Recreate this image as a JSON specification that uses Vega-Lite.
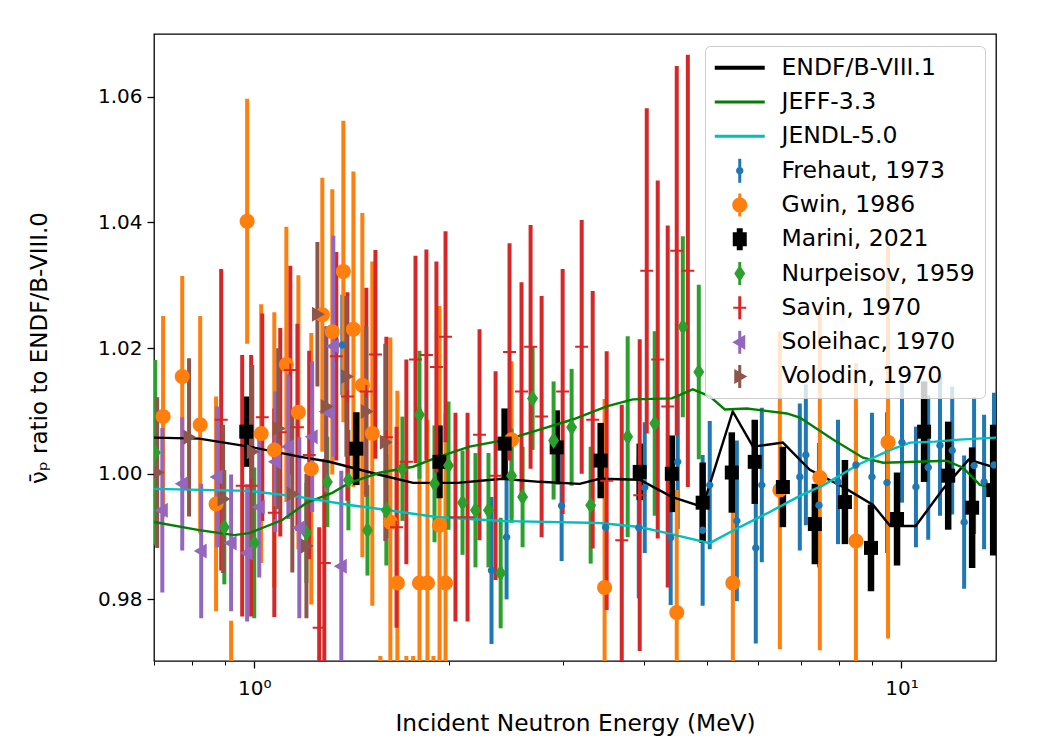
{
  "$schema": "https://vega.github.io/schema/vega-lite/v6.json",
  "width": 842,
  "height": 627,
  "autosize": {"type": "none"},
  "padding": {"left": 154, "top": 34, "right": 47, "bottom": 79},
  "background": "white",
  "config": {
    "view": {"stroke": "#000", "strokeWidth": 1.3},
    "axis": {"domain": false, "grid": false, "tickColor": "#000", "labelColor": "#000", "titleColor": "#000", "labelFont": "DejaVu Sans", "titleFont": "DejaVu Sans", "titleFontWeight": "normal"}
  },
  "datasets": {
    "evals": [
      {"s": "ENDF/B-VIII.1", "E": 0.700, "v": 1.00576}, {"s": "ENDF/B-VIII.1", "E": 0.822, "v": 1.0056}, {"s": "ENDF/B-VIII.1", "E": 0.982, "v": 1.00432}, {"s": "ENDF/B-VIII.1", "E": 1.174, "v": 1.00272}, {"s": "ENDF/B-VIII.1", "E": 1.306, "v": 1.00192}, {"s": "ENDF/B-VIII.1", "E": 1.561, "v": 0.99984}, {"s": "ENDF/B-VIII.1", "E": 1.760, "v": 0.99856}, {"s": "ENDF/B-VIII.1", "E": 2.061, "v": 0.99856}, {"s": "ENDF/B-VIII.1", "E": 2.420, "v": 0.9992}, {"s": "ENDF/B-VIII.1", "E": 2.760, "v": 0.99872}, {"s": "ENDF/B-VIII.1", "E": 3.183, "v": 0.9984}, {"s": "ENDF/B-VIII.1", "E": 3.418, "v": 0.9992}, {"s": "ENDF/B-VIII.1", "E": 3.941, "v": 0.99904}, {"s": "ENDF/B-VIII.1", "E": 4.418, "v": 0.99632}, {"s": "ENDF/B-VIII.1", "E": 4.930, "v": 0.99472}, {"s": "ENDF/B-VIII.1", "E": 5.487, "v": 1.00992}, {"s": "ENDF/B-VIII.1", "E": 5.897, "v": 1.00432}, {"s": "ENDF/B-VIII.1", "E": 6.560, "v": 1.00496}, {"s": "ENDF/B-VIII.1", "E": 7.218, "v": 1.00064}, {"s": "ENDF/B-VIII.1", "E": 8.120, "v": 0.99792}, {"s": "ENDF/B-VIII.1", "E": 9.04, "v": 0.99504}, {"s": "ENDF/B-VIII.1", "E": 9.61, "v": 0.99168}, {"s": "ENDF/B-VIII.1", "E": 10.52, "v": 0.99168}, {"s": "ENDF/B-VIII.1", "E": 11.6, "v": 0.9976}, {"s": "ENDF/B-VIII.1", "E": 12.7, "v": 1.00224}, {"s": "ENDF/B-VIII.1", "E": 14.0, "v": 1.00096},
      {"s": "JEFF-3.3", "E": 0.700, "v": 0.99232}, {"s": "JEFF-3.3", "E": 0.822, "v": 0.99104}, {"s": "JEFF-3.3", "E": 0.931, "v": 0.99024}, {"s": "JEFF-3.3", "E": 0.982, "v": 0.99056}, {"s": "JEFF-3.3", "E": 1.105, "v": 0.99264}, {"s": "JEFF-3.3", "E": 1.204, "v": 0.99536}, {"s": "JEFF-3.3", "E": 1.320, "v": 0.99696}, {"s": "JEFF-3.3", "E": 1.403, "v": 0.99856}, {"s": "JEFF-3.3", "E": 1.561, "v": 1.00016}, {"s": "JEFF-3.3", "E": 1.760, "v": 1.00112}, {"s": "JEFF-3.3", "E": 1.912, "v": 1.00256}, {"s": "JEFF-3.3", "E": 2.151, "v": 1.00432}, {"s": "JEFF-3.3", "E": 2.454, "v": 1.00544}, {"s": "JEFF-3.3", "E": 2.760, "v": 1.00704}, {"s": "JEFF-3.3", "E": 3.105, "v": 1.00864}, {"s": "JEFF-3.3", "E": 3.504, "v": 1.01072}, {"s": "JEFF-3.3", "E": 3.845, "v": 1.01184}, {"s": "JEFF-3.3", "E": 4.418, "v": 1.012}, {"s": "JEFF-3.3", "E": 4.760, "v": 1.01344}, {"s": "JEFF-3.3", "E": 5.056, "v": 1.01232}, {"s": "JEFF-3.3", "E": 5.334, "v": 1.01024}, {"s": "JEFF-3.3", "E": 5.769, "v": 1.0104}, {"s": "JEFF-3.3", "E": 6.653, "v": 1.0096}, {"s": "JEFF-3.3", "E": 6.966, "v": 1.00896}, {"s": "JEFF-3.3", "E": 7.839, "v": 1.00544}, {"s": "JEFF-3.3", "E": 8.72, "v": 1.00256}, {"s": "JEFF-3.3", "E": 9.37, "v": 1.00176}, {"s": "JEFF-3.3", "E": 10.57, "v": 1.00192}, {"s": "JEFF-3.3", "E": 11.73, "v": 1.00208}, {"s": "JEFF-3.3", "E": 12.45, "v": 1.00096}, {"s": "JEFF-3.3", "E": 13.22, "v": 0.99824}, {"s": "JEFF-3.3", "E": 14.0, "v": 0.99776},
      {"s": "JENDL-5.0", "E": 0.700, "v": 0.9976}, {"s": "JENDL-5.0", "E": 0.982, "v": 0.99728}, {"s": "JENDL-5.0", "E": 1.174, "v": 0.99632}, {"s": "JENDL-5.0", "E": 1.403, "v": 0.99504}, {"s": "JENDL-5.0", "E": 1.561, "v": 0.9944}, {"s": "JENDL-5.0", "E": 1.912, "v": 0.99312}, {"s": "JENDL-5.0", "E": 2.420, "v": 0.99248}, {"s": "JENDL-5.0", "E": 3.418, "v": 0.99216}, {"s": "JENDL-5.0", "E": 3.941, "v": 0.99152}, {"s": "JENDL-5.0", "E": 4.277, "v": 0.99072}, {"s": "JENDL-5.0", "E": 5.056, "v": 0.98896}, {"s": "JENDL-5.0", "E": 5.626, "v": 0.99152}, {"s": "JENDL-5.0", "E": 6.260, "v": 0.99392}, {"s": "JENDL-5.0", "E": 6.966, "v": 0.99648}, {"s": "JENDL-5.0", "E": 7.591, "v": 0.99824}, {"s": "JENDL-5.0", "E": 8.567, "v": 1.00144}, {"s": "JENDL-5.0", "E": 9.637, "v": 1.00384}, {"s": "JENDL-5.0", "E": 10.31, "v": 1.00496}, {"s": "JENDL-5.0", "E": 11.27, "v": 1.00512}, {"s": "JENDL-5.0", "E": 12.28, "v": 1.00544}, {"s": "JENDL-5.0", "E": 14.0, "v": 1.00576}
    ],
    "exps": [
      {"s": "Frehaut, 1973", "E": 1.368, "v": 1.0205, "err": 0.008}, {"s": "Frehaut, 1973", "E": 2.326, "v": 0.9846, "err": 0.0117}, {"s": "Frehaut, 1973", "E": 2.454, "v": 0.9899, "err": 0.0099}, {"s": "Frehaut, 1973", "E": 2.985, "v": 0.9949, "err": 0.0088}, {"s": "Frehaut, 1973", "E": 3.491, "v": 0.9915, "err": 0.0112}, {"s": "Frehaut, 1973", "E": 3.928, "v": 0.9914, "err": 0.0112}, {"s": "Frehaut, 1973", "E": 4.012, "v": 0.9978, "err": 0.0104}, {"s": "Frehaut, 1973", "E": 4.40, "v": 0.9898, "err": 0.0107}, {"s": "Frehaut, 1973", "E": 4.512, "v": 1.0019, "err": 0.0107}, {"s": "Frehaut, 1973", "E": 4.93, "v": 0.991, "err": 0.012}, {"s": "Frehaut, 1973", "E": 5.056, "v": 0.9982, "err": 0.0102}, {"s": "Frehaut, 1973", "E": 5.568, "v": 0.9925, "err": 0.0128}, {"s": "Frehaut, 1973", "E": 5.956, "v": 0.9882, "err": 0.0152}, {"s": "Frehaut, 1973", "E": 6.085, "v": 0.9982, "err": 0.0123}, {"s": "Frehaut, 1973", "E": 6.966, "v": 0.9995, "err": 0.0117}, {"s": "Frehaut, 1973", "E": 7.117, "v": 1.003, "err": 0.0112}, {"s": "Frehaut, 1973", "E": 7.457, "v": 0.995, "err": 0.0099}, {"s": "Frehaut, 1973", "E": 7.98, "v": 0.9987, "err": 0.0099}, {"s": "Frehaut, 1973", "E": 8.506, "v": 1.0014, "err": 0.0088}, {"s": "Frehaut, 1973", "E": 9.005, "v": 0.9995, "err": 0.0102}, {"s": "Frehaut, 1973", "E": 9.50, "v": 0.9986, "err": 0.0112}, {"s": "Frehaut, 1973", "E": 10.02, "v": 1.005, "err": 0.0096}, {"s": "Frehaut, 1973", "E": 10.53, "v": 0.9979, "err": 0.0096}, {"s": "Frehaut, 1973", "E": 11.0, "v": 1.001, "err": 0.0115}, {"s": "Frehaut, 1973", "E": 11.47, "v": 1.0045, "err": 0.0112}, {"s": "Frehaut, 1973", "E": 11.98, "v": 1.0037, "err": 0.0102}, {"s": "Frehaut, 1973", "E": 12.5, "v": 0.9923, "err": 0.0106}, {"s": "Frehaut, 1973", "E": 12.95, "v": 1.0013, "err": 0.0109}, {"s": "Frehaut, 1973", "E": 13.42, "v": 0.9987, "err": 0.0107}, {"s": "Frehaut, 1973", "E": 13.9, "v": 1.0014, "err": 0.0115},
      {"s": "Gwin, 1986", "E": 0.723, "v": 1.0091, "err": 0.016}, {"s": "Gwin, 1986", "E": 0.774, "v": 1.0155, "err": 0.016}, {"s": "Gwin, 1986", "E": 0.825, "v": 1.0078, "err": 0.0173}, {"s": "Gwin, 1986", "E": 0.873, "v": 0.9952, "err": 0.0171}, {"s": "Gwin, 1986", "E": 0.921, "v": 0.9638, "err": 0.0128}, {"s": "Gwin, 1986", "E": 0.975, "v": 1.0402, "err": 0.0195}, {"s": "Gwin, 1986", "E": 1.025, "v": 1.0064, "err": 0.0206}, {"s": "Gwin, 1986", "E": 1.074, "v": 1.0038, "err": 0.0219}, {"s": "Gwin, 1986", "E": 1.121, "v": 1.0174, "err": 0.0219}, {"s": "Gwin, 1986", "E": 1.170, "v": 1.0098, "err": 0.0218}, {"s": "Gwin, 1986", "E": 1.225, "v": 1.0008, "err": 0.0216}, {"s": "Gwin, 1986", "E": 1.274, "v": 1.0253, "err": 0.0218}, {"s": "Gwin, 1986", "E": 1.320, "v": 1.0226, "err": 0.0227}, {"s": "Gwin, 1986", "E": 1.373, "v": 1.0322, "err": 0.024}, {"s": "Gwin, 1986", "E": 1.423, "v": 1.023, "err": 0.0251}, {"s": "Gwin, 1986", "E": 1.469, "v": 1.0141, "err": 0.0274}, {"s": "Gwin, 1986", "E": 1.522, "v": 1.0064, "err": 0.0274}, {"s": "Gwin, 1986", "E": 1.566, "v": 0.955, "err": 0.016}, {"s": "Gwin, 1986", "E": 1.623, "v": 0.9923, "err": 0.0294}, {"s": "Gwin, 1986", "E": 1.664, "v": 0.9826, "err": 0.0306}, {"s": "Gwin, 1986", "E": 1.718, "v": 0.955, "err": 0.016}, {"s": "Gwin, 1986", "E": 1.760, "v": 0.956, "err": 0.015}, {"s": "Gwin, 1986", "E": 1.800, "v": 0.9826, "err": 0.028}, {"s": "Gwin, 1986", "E": 1.852, "v": 0.9826, "err": 0.026}, {"s": "Gwin, 1986", "E": 1.892, "v": 0.956, "err": 0.015}, {"s": "Gwin, 1986", "E": 1.933, "v": 0.9918, "err": 0.0349}, {"s": "Gwin, 1986", "E": 1.975, "v": 0.9826, "err": 0.027}, {"s": "Gwin, 1986", "E": 2.498, "v": 1.0054, "err": 0.0125}, {"s": "Gwin, 1986", "E": 3.478, "v": 0.9819, "err": 0.03}, {"s": "Gwin, 1986", "E": 4.496, "v": 0.9779, "err": 0.0195}, {"s": "Gwin, 1986", "E": 5.489, "v": 0.9826, "err": 0.0229}, {"s": "Gwin, 1986", "E": 6.489, "v": 0.9974, "err": 0.0253}, {"s": "Gwin, 1986", "E": 7.48, "v": 0.9994, "err": 0.0275}, {"s": "Gwin, 1986", "E": 8.506, "v": 0.9893, "err": 0.0283}, {"s": "Gwin, 1986", "E": 9.535, "v": 1.005, "err": 0.0312},
      {"s": "Marini, 2021", "E": 0.972, "v": 1.0067, "err": 0.0056}, {"s": "Marini, 2021", "E": 1.438, "v": 1.004, "err": 0.0058}, {"s": "Marini, 2021", "E": 1.933, "v": 1.0019, "err": 0.0058}, {"s": "Marini, 2021", "E": 2.437, "v": 1.0048, "err": 0.0056}, {"s": "Marini, 2021", "E": 2.933, "v": 1.0042, "err": 0.0059}, {"s": "Marini, 2021", "E": 3.43, "v": 1.0021, "err": 0.006}, {"s": "Marini, 2021", "E": 3.941, "v": 1.0003, "err": 0.0045}, {"s": "Marini, 2021", "E": 4.418, "v": 1.0, "err": 0.0061}, {"s": "Marini, 2021", "E": 4.93, "v": 0.9954, "err": 0.0064}, {"s": "Marini, 2021", "E": 5.469, "v": 1.0002, "err": 0.0064}, {"s": "Marini, 2021", "E": 5.934, "v": 1.0019, "err": 0.0067}, {"s": "Marini, 2021", "E": 6.559, "v": 0.9979, "err": 0.0064}, {"s": "Marini, 2021", "E": 7.349, "v": 0.992, "err": 0.0064}, {"s": "Marini, 2021", "E": 8.179, "v": 0.9955, "err": 0.0067}, {"s": "Marini, 2021", "E": 8.974, "v": 0.9882, "err": 0.0069}, {"s": "Marini, 2021", "E": 9.845, "v": 0.9928, "err": 0.0074}, {"s": "Marini, 2021", "E": 10.84, "v": 1.0067, "err": 0.008}, {"s": "Marini, 2021", "E": 11.81, "v": 0.9997, "err": 0.0086}, {"s": "Marini, 2021", "E": 12.86, "v": 0.9946, "err": 0.0096}, {"s": "Marini, 2021", "E": 13.86, "v": 0.9974, "err": 0.0104},
      {"s": "Nurpeisov, 1959", "E": 0.703, "v": 1.0034, "err": 0.0147}, {"s": "Nurpeisov, 1959", "E": 0.899, "v": 0.9915, "err": 0.0091}, {"s": "Nurpeisov, 1959", "E": 1.0, "v": 0.989, "err": 0.012}, {"s": "Nurpeisov, 1959", "E": 1.204, "v": 0.9906, "err": 0.008}, {"s": "Nurpeisov, 1959", "E": 1.297, "v": 0.9987, "err": 0.0072}, {"s": "Nurpeisov, 1959", "E": 1.398, "v": 0.999, "err": 0.008}, {"s": "Nurpeisov, 1959", "E": 1.496, "v": 0.991, "err": 0.0072}, {"s": "Nurpeisov, 1959", "E": 1.600, "v": 0.9942, "err": 0.0088}, {"s": "Nurpeisov, 1959", "E": 1.694, "v": 1.0008, "err": 0.0083}, {"s": "Nurpeisov, 1959", "E": 1.800, "v": 1.0094, "err": 0.0102}, {"s": "Nurpeisov, 1959", "E": 1.899, "v": 0.9984, "err": 0.0093}, {"s": "Nurpeisov, 1959", "E": 1.996, "v": 1.0013, "err": 0.0102}, {"s": "Nurpeisov, 1959", "E": 2.098, "v": 0.9954, "err": 0.0083}, {"s": "Nurpeisov, 1959", "E": 2.197, "v": 0.9942, "err": 0.0091}, {"s": "Nurpeisov, 1959", "E": 2.301, "v": 0.9942, "err": 0.0091}, {"s": "Nurpeisov, 1959", "E": 2.403, "v": 0.9842, "err": 0.0088}, {"s": "Nurpeisov, 1959", "E": 2.498, "v": 0.9997, "err": 0.0075}, {"s": "Nurpeisov, 1959", "E": 2.598, "v": 0.9963, "err": 0.008}, {"s": "Nurpeisov, 1959", "E": 2.692, "v": 1.012, "err": 0.0082}, {"s": "Nurpeisov, 1959", "E": 2.901, "v": 1.0053, "err": 0.0094}, {"s": "Nurpeisov, 1959", "E": 3.093, "v": 1.0074, "err": 0.0093}, {"s": "Nurpeisov, 1959", "E": 3.310, "v": 0.995, "err": 0.0093}, {"s": "Nurpeisov, 1959", "E": 3.776, "v": 1.0059, "err": 0.016}, {"s": "Nurpeisov, 1959", "E": 4.157, "v": 1.008, "err": 0.0147}, {"s": "Nurpeisov, 1959", "E": 4.594, "v": 1.0234, "err": 0.0144}, {"s": "Nurpeisov, 1959", "E": 4.863, "v": 1.0162, "err": 0.0139},
      {"s": "Savin, 1970", "E": 0.889, "v": 1.0086, "err": 0.024}, {"s": "Savin, 1970", "E": 0.958, "v": 0.9981, "err": 0.0208}, {"s": "Savin, 1970", "E": 0.989, "v": 0.9981, "err": 0.0208}, {"s": "Savin, 1970", "E": 1.029, "v": 1.009, "err": 0.0165}, {"s": "Savin, 1970", "E": 1.074, "v": 0.9938, "err": 0.0166}, {"s": "Savin, 1970", "E": 1.097, "v": 1.0066, "err": 0.0166}, {"s": "Savin, 1970", "E": 1.137, "v": 1.0165, "err": 0.0166}, {"s": "Savin, 1970", "E": 1.166, "v": 1.0074, "err": 0.0165}, {"s": "Savin, 1970", "E": 1.216, "v": 1.003, "err": 0.0166}, {"s": "Savin, 1970", "E": 1.260, "v": 0.9755, "err": 0.016}, {"s": "Savin, 1970", "E": 1.283, "v": 0.9858, "err": 0.0166}, {"s": "Savin, 1970", "E": 1.339, "v": 1.0187, "err": 0.0166}, {"s": "Savin, 1970", "E": 1.393, "v": 1.0123, "err": 0.0166}, {"s": "Savin, 1970", "E": 1.490, "v": 1.0131, "err": 0.0165}, {"s": "Savin, 1970", "E": 1.539, "v": 1.019, "err": 0.0166}, {"s": "Savin, 1970", "E": 1.600, "v": 1.0058, "err": 0.016}, {"s": "Savin, 1970", "E": 1.659, "v": 0.9915, "err": 0.016}, {"s": "Savin, 1970", "E": 1.718, "v": 1.0019, "err": 0.0163}, {"s": "Savin, 1970", "E": 1.775, "v": 1.0182, "err": 0.0165}, {"s": "Savin, 1970", "E": 1.845, "v": 1.0189, "err": 0.0168}, {"s": "Savin, 1970", "E": 1.912, "v": 1.017, "err": 0.0168}, {"s": "Savin, 1970", "E": 1.975, "v": 1.0218, "err": 0.0168}, {"s": "Savin, 1970", "E": 2.046, "v": 0.9931, "err": 0.0166}, {"s": "Savin, 1970", "E": 2.136, "v": 0.9931, "err": 0.0166}, {"s": "Savin, 1970", "E": 2.229, "v": 1.0062, "err": 0.0168}, {"s": "Savin, 1970", "E": 2.36, "v": 0.9997, "err": 0.0166}, {"s": "Savin, 1970", "E": 2.48, "v": 1.0194, "err": 0.0173}, {"s": "Savin, 1970", "E": 2.588, "v": 1.0131, "err": 0.0174}, {"s": "Savin, 1970", "E": 2.673, "v": 1.0202, "err": 0.0194}, {"s": "Savin, 1970", "E": 2.78, "v": 1.0091, "err": 0.0192}, {"s": "Savin, 1970", "E": 2.996, "v": 1.0131, "err": 0.0195}, {"s": "Savin, 1970", "E": 3.206, "v": 1.0202, "err": 0.0202}, {"s": "Savin, 1970", "E": 3.334, "v": 1.0086, "err": 0.0205}, {"s": "Savin, 1970", "E": 3.504, "v": 0.9989, "err": 0.0206}, {"s": "Savin, 1970", "E": 3.697, "v": 0.9894, "err": 0.0216}, {"s": "Savin, 1970", "E": 3.941, "v": 0.9966, "err": 0.0248}, {"s": "Savin, 1970", "E": 4.041, "v": 1.0323, "err": 0.0259}, {"s": "Savin, 1970", "E": 4.202, "v": 1.0182, "err": 0.0285}, {"s": "Savin, 1970", "E": 4.354, "v": 1.0107, "err": 0.0288}, {"s": "Savin, 1970", "E": 4.496, "v": 1.0355, "err": 0.0294}, {"s": "Savin, 1970", "E": 4.677, "v": 1.0323, "err": 0.0344},
      {"s": "Soleihac, 1970", "E": 0.721, "v": 0.9942, "err": 0.0131}, {"s": "Soleihac, 1970", "E": 0.774, "v": 0.9984, "err": 0.0106}, {"s": "Soleihac, 1970", "E": 0.828, "v": 0.9877, "err": 0.0107}, {"s": "Soleihac, 1970", "E": 0.876, "v": 0.9995, "err": 0.0112}, {"s": "Soleihac, 1970", "E": 0.921, "v": 0.989, "err": 0.0109}, {"s": "Soleihac, 1970", "E": 0.975, "v": 0.9874, "err": 0.0109}, {"s": "Soleihac, 1970", "E": 1.018, "v": 0.9947, "err": 0.0112}, {"s": "Soleihac, 1970", "E": 1.078, "v": 1.0019, "err": 0.0112}, {"s": "Soleihac, 1970", "E": 1.129, "v": 1.0043, "err": 0.0115}, {"s": "Soleihac, 1970", "E": 1.174, "v": 0.9914, "err": 0.0144}, {"s": "Soleihac, 1970", "E": 1.229, "v": 1.0059, "err": 0.012}, {"s": "Soleihac, 1970", "E": 1.292, "v": 1.0099, "err": 0.0128}, {"s": "Soleihac, 1970", "E": 1.325, "v": 1.0203, "err": 0.0176}, {"s": "Soleihac, 1970", "E": 1.363, "v": 0.9853, "err": 0.0152},
      {"s": "Volodin, 1970", "E": 0.708, "v": 1.0002, "err": 0.012}, {"s": "Volodin, 1970", "E": 0.793, "v": 1.0058, "err": 0.0126}, {"s": "Volodin, 1970", "E": 0.895, "v": 0.996, "err": 0.0118}, {"s": "Volodin, 1970", "E": 0.993, "v": 1.0035, "err": 0.0138}, {"s": "Volodin, 1970", "E": 1.089, "v": 1.0072, "err": 0.0128}, {"s": "Volodin, 1970", "E": 1.145, "v": 0.9968, "err": 0.0125}, {"s": "Volodin, 1970", "E": 1.204, "v": 0.9885, "err": 0.0115}, {"s": "Volodin, 1970", "E": 1.252, "v": 1.0254, "err": 0.0115}, {"s": "Volodin, 1970", "E": 1.292, "v": 1.0107, "err": 0.0128}, {"s": "Volodin, 1970", "E": 1.388, "v": 1.0155, "err": 0.0128}, {"s": "Volodin, 1970", "E": 1.49, "v": 1.0099, "err": 0.0136}, {"s": "Volodin, 1970", "E": 1.594, "v": 1.005, "err": 0.0157}
    ]
  },
  "layer": [
    {
      "data": {"name": "exps"},
      "transform": [{"filter": {"field": "s", "oneOf": ["Frehaut, 1973", "Gwin, 1986"]}}],
      "mark": {"type": "errorbar", "ticks": false, "thickness": 4, "clip": true},
      "encoding": {
        "x": {"field": "E", "type": "quantitative", "scale": {"type": "log", "domain": [0.7, 14], "nice": false},
          "title": "Incident Neutron Energy (MeV)",
          "axis": {"values": [0.7, 0.8, 0.9, 1, 2, 3, 4, 5, 6, 7, 8, 9, 10], "labelExpr": "datum.value === 1 ? '10⁰' : datum.value === 10 ? '10¹' : ''", "labelOverlap": false, "labelFlush": false, "labelFontSize": 20, "labelPadding": 10, "titleFontSize": 23.3, "titlePadding": 14,
            "tickSize": {"condition": {"test": "datum.value === 1 || datum.value === 10", "value": 7}, "value": 4},
            "tickWidth": {"condition": {"test": "datum.value === 1 || datum.value === 10", "value": 1.3}, "value": 1}}},
        "y": {"field": "v", "type": "quantitative", "scale": {"domain": [0.9702, 1.07], "nice": false, "zero": false},
          "title": "ν̄ₚ ratio to ENDF/B-VIII.0",
          "axis": {"values": [0.98, 1.0, 1.02, 1.04, 1.06], "format": ".2f", "labelFontSize": 20, "labelPadding": 5, "tickSize": 7, "tickWidth": 1.3, "titleFontSize": 23, "titlePadding": 46}},
        "yError": {"field": "err"},
        "color": {"field": "s", "type": "nominal", "scale": {"domain": ["ENDF/B-VIII.1", "JEFF-3.3", "JENDL-5.0", "Frehaut, 1973", "Gwin, 1986", "Marini, 2021", "Nurpeisov, 1959", "Savin, 1970", "Soleihac, 1970", "Volodin, 1970"], "range": ["#000000", "#008000", "#00bfbf", "#1f77b4", "#ff7f0e", "#000000", "#2ca02c", "#d62728", "#9467bd", "#8c564b"]}}
      }
    },
    {
      "data": {"name": "exps"},
      "transform": [{"filter": {"field": "s", "equal": "Marini, 2021"}}],
      "mark": {"type": "errorbar", "ticks": false, "thickness": 6.5, "clip": true},
      "encoding": {
        "x": {"field": "E", "type": "quantitative", "title": "Incident Neutron Energy (MeV)"},
        "y": {"field": "v", "type": "quantitative", "title": "ν̄ₚ ratio to ENDF/B-VIII.0"},
        "yError": {"field": "err"},
        "color": {"field": "s", "type": "nominal"}
      }
    },
    {
      "data": {"name": "exps"},
      "transform": [{"filter": {"field": "s", "oneOf": ["Nurpeisov, 1959", "Savin, 1970", "Soleihac, 1970", "Volodin, 1970"]}}],
      "mark": {"type": "errorbar", "ticks": false, "thickness": 4, "clip": true},
      "encoding": {
        "x": {"field": "E", "type": "quantitative", "title": "Incident Neutron Energy (MeV)"},
        "y": {"field": "v", "type": "quantitative", "title": "ν̄ₚ ratio to ENDF/B-VIII.0"},
        "yError": {"field": "err"},
        "color": {"field": "s", "type": "nominal"}
      }
    },
    {
      "data": {"name": "evals"},
      "mark": {"type": "line", "strokeWidth": 2.4, "clip": true},
      "encoding": {
        "x": {"field": "E", "type": "quantitative", "title": "Incident Neutron Energy (MeV)"},
        "y": {"field": "v", "type": "quantitative", "title": "ν̄ₚ ratio to ENDF/B-VIII.0"},
        "color": {"field": "s", "type": "nominal",
          "legend": {
            "orient": "none", "legendX": 551, "legendY": 12, "title": null,
            "labelFont": "DejaVu Sans", "labelFontSize": 23.5, "labelColor": "#000", "labelLimit": 400,
            "symbolSize": 400, "symbolOffset": 13, "labelOffset": 30, "rowPadding": 9.3, "padding": 10,
            "strokeColor": "#cccccc", "fillColor": "rgba(255,255,255,0.8)", "cornerRadius": 5,
            "encode": {
              "symbols": {
                "update": {
                  "shape": {"signal": "datum.value === 'ENDF/B-VIII.1' ? 'M-2.5,-0.2H2.5V0.2H-2.5Z' : (datum.value === 'JEFF-3.3' || datum.value === 'JENDL-5.0') ? 'M-2.5,-0.15H2.5V0.15H-2.5Z' : datum.value === 'Frehaut, 1973' ? 'M-0.15,-1.2H0.15V1.2H-0.15Z M0.37,0A0.37,0.37 0 1,1 -0.37,0A0.37,0.37 0 1,1 0.37,0Z' : datum.value === 'Gwin, 1986' ? 'M-0.15,-1.15H0.15V1.15H-0.15Z M0.75,0A0.75,0.75 0 1,1 -0.75,0A0.75,0.75 0 1,1 0.75,0Z' : datum.value === 'Marini, 2021' ? 'M-0.3,-1.1H0.3V1.1H-0.3Z M-0.7,-0.7H0.7V0.7H-0.7Z' : datum.value === 'Nurpeisov, 1959' ? 'M-0.15,-1.15H0.15V1.15H-0.15Z M0,-0.85L0.55,0L0,0.85L-0.55,0Z' : datum.value === 'Savin, 1970' ? 'M-0.15,-1.15H0.15V1.15H-0.15Z M-0.65,-0.1H0.65V0.1H-0.65Z' : datum.value === 'Soleihac, 1970' ? 'M-0.15,-1.15H0.15V1.15H-0.15Z M-0.75,0L0.55,-0.75L0.55,0.75Z' : 'M-0.15,-1.15H0.15V1.15H-0.15Z M0.75,0L-0.55,0.75L-0.55,-0.75Z'"},
                  "fill": {"signal": "scale('color', datum.value)"},
                  "stroke": {"value": "transparent"},
                  "strokeWidth": {"value": 0},
                  "opacity": {"value": 1},
                  "fillOpacity": {"value": 1}
                }
              }
            }
          }
        }
      }
    },
    {
      "mark": {"type": "rule", "strokeWidth": 5, "color": "#000"},
      "encoding": {"y": {"datum": 1}}
    },
    {
      "data": {"name": "exps"},
      "mark": {"type": "point", "filled": true, "opacity": 1, "strokeWidth": 0, "size": 400, "clip": true},
      "encoding": {
        "x": {"field": "E", "type": "quantitative", "title": "Incident Neutron Energy (MeV)"},
        "y": {"field": "v", "type": "quantitative", "title": "ν̄ₚ ratio to ENDF/B-VIII.0"},
        "color": {"field": "s", "type": "nominal"},
        "shape": {"field": "s", "type": "nominal", "legend": null,
          "scale": {"domain": ["Frehaut, 1973", "Gwin, 1986", "Marini, 2021", "Nurpeisov, 1959", "Savin, 1970", "Soleihac, 1970", "Volodin, 1970"],
            "range": ["M0.37,0A0.37,0.37 0 1,1 -0.37,0A0.37,0.37 0 1,1 0.37,0Z", "M0.75,0A0.75,0.75 0 1,1 -0.75,0A0.75,0.75 0 1,1 0.75,0Z", "M-0.7,-0.7H0.7V0.7H-0.7Z", "M0,-0.85L0.55,0L0,0.85L-0.55,0Z", "M-0.65,-0.1H0.65V0.1H-0.65Z M-0.1,-0.65H0.1V0.65H-0.1Z", "M-0.75,0L0.55,-0.75L0.55,0.75Z", "M0.75,0L-0.55,0.75L-0.55,-0.75Z"]}}
      }
    }
  ]
}
